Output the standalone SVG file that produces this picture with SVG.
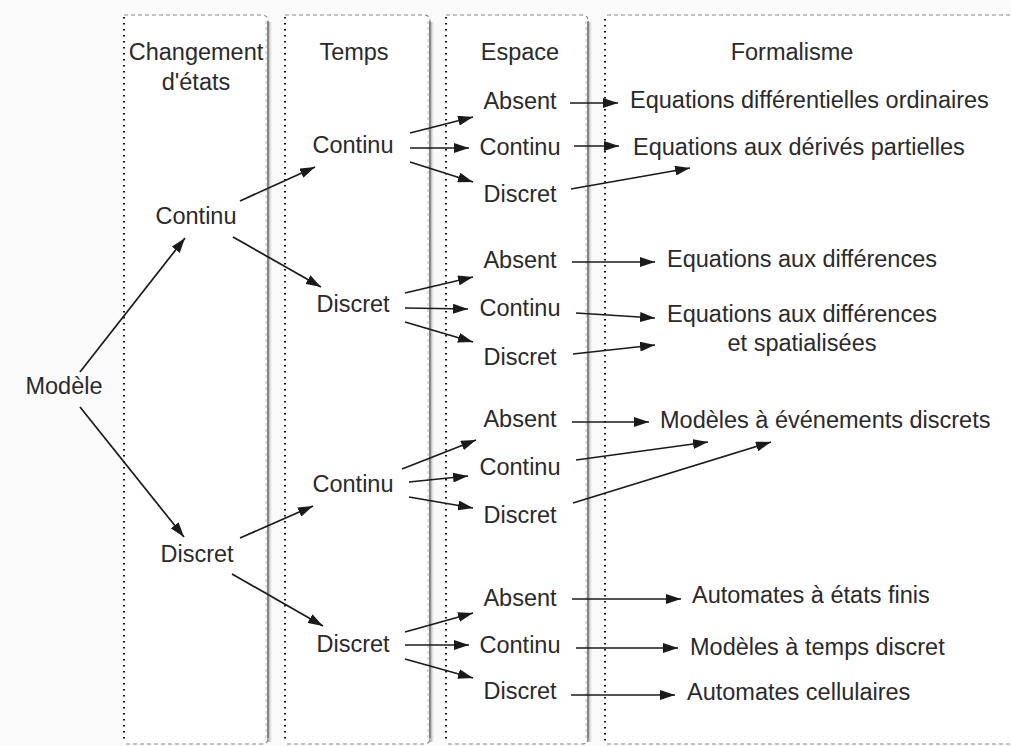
<svg xmlns="http://www.w3.org/2000/svg" width="1011" height="746" viewBox="0 0 1011 746">
<defs>
<style>
text{font-family:"Liberation Sans",Arial,sans-serif;font-size:23.5px;fill:#2a2a2a}
.c{text-anchor:middle}
.col{fill:#ffffff}
.top{stroke:#8a8a8a;stroke-width:1.2;stroke-dasharray:4 3;fill:none}
.left{stroke:#111;stroke-width:2;stroke-dasharray:1.6 4.4;fill:none}
.right{stroke:#777;stroke-width:1.5;fill:none}
.rtick{stroke:#bbb;stroke-width:1;stroke-dasharray:3 3;fill:none}
.e{stroke:#1a1a1a;stroke-width:1.7;fill:none;marker-end:url(#ah)}
</style>
<marker id="ah" markerWidth="15" markerHeight="10" refX="15" refY="5" orient="auto" markerUnits="userSpaceOnUse">
<path d="M0,0 L15,5 L0,10 z" fill="#1a1a1a"/>
</marker>
<linearGradient id="sh" x1="0" y1="0" x2="1" y2="0">
<stop offset="0" stop-color="#9a9a9a"/>
<stop offset="0.4" stop-color="#c4c4c4"/>
<stop offset="1" stop-color="#ffffff" stop-opacity="0"/>
</linearGradient>
</defs>
<rect x="0" y="0" width="1011" height="746" fill="#fafafa"/>

<g id="columns">
<g id="col-etats">
<rect class="col" x="124" y="15" width="144" height="729"/>
<rect x="267" y="22" width="6" height="720" fill="url(#sh)"/>
<path class="top" d="M124,15 H262 Q268,15 268,21"/>
<path class="top" d="M126,744 H262 Q268,744 268,738"/>
<path class="right" d="M268,21 V738"/>
<path class="rtick" d="M266,21 V738"/>
<path class="left" d="M124,17 V742"/>
</g>
<g id="col-temps">
<rect class="col" x="285" y="15" width="145" height="729"/>
<rect x="429" y="22" width="6" height="720" fill="url(#sh)"/>
<path class="top" d="M285,15 H424 Q430,15 430,21"/>
<path class="top" d="M287,744 H424 Q430,744 430,738"/>
<path class="right" d="M430,21 V738"/>
<path class="rtick" d="M428,21 V738"/>
<path class="left" d="M285,17 V742"/>
</g>
<g id="col-espace">
<rect class="col" x="446" y="15" width="142" height="729"/>
<rect x="587" y="22" width="6" height="720" fill="url(#sh)"/>
<path class="top" d="M446,15 H582 Q588,15 588,21"/>
<path class="top" d="M448,744 H582 Q588,744 588,738"/>
<path class="right" d="M588,21 V738"/>
<path class="rtick" d="M586,21 V738"/>
<path class="left" d="M446,17 V742"/>
</g>
<g id="col-formalisme">
<rect class="col" x="605" y="15" width="406" height="729"/>
<path class="top" d="M607,15 H1011"/>
<path class="top" d="M607,744 H1011"/>
<path class="left" d="M605,19 V742"/>
</g>
</g>

<g id="headers">
<text class="c" x="196" y="60">Changement</text>
<text class="c" x="196" y="90">d'états</text>
<text class="c" x="354" y="60">Temps</text>
<text class="c" x="520" y="60">Espace</text>
<text class="c" x="792" y="60">Formalisme</text>
</g>

<g id="modele"><text class="c" x="64" y="394">Modèle</text></g>

<g id="etat-continu"><text class="c" x="196" y="224">Continu</text></g>
<g id="etat-discret"><text class="c" x="197" y="562">Discret</text></g>

<g id="temps-1"><text class="c" x="353" y="153">Continu</text></g>
<g id="temps-2"><text class="c" x="353" y="312">Discret</text></g>
<g id="temps-3"><text class="c" x="353" y="492">Continu</text></g>
<g id="temps-4"><text class="c" x="353" y="652">Discret</text></g>

<g id="espace-1a"><text class="c" x="520" y="109">Absent</text></g>
<g id="espace-1b"><text class="c" x="520" y="155">Continu</text></g>
<g id="espace-1c"><text class="c" x="520" y="202">Discret</text></g>
<g id="espace-2a"><text class="c" x="520" y="268">Absent</text></g>
<g id="espace-2b"><text class="c" x="520" y="316">Continu</text></g>
<g id="espace-2c"><text class="c" x="520" y="365">Discret</text></g>
<g id="espace-3a"><text class="c" x="520" y="427">Absent</text></g>
<g id="espace-3b"><text class="c" x="520" y="475">Continu</text></g>
<g id="espace-3c"><text class="c" x="520" y="523">Discret</text></g>
<g id="espace-4a"><text class="c" x="520" y="606">Absent</text></g>
<g id="espace-4b"><text class="c" x="520" y="653">Continu</text></g>
<g id="espace-4c"><text class="c" x="520" y="699">Discret</text></g>

<g id="f-edo"><text x="630" y="108">Equations différentielles ordinaires</text></g>
<g id="f-edp"><text x="633" y="155">Equations aux dérivés partielles</text></g>
<g id="f-diff"><text x="667" y="267">Equations aux différences</text></g>
<g id="f-diff-spat"><text x="667" y="322">Equations aux différences</text><text class="c" x="802" y="351">et spatialisées</text></g>
<g id="f-evt"><text x="660" y="428">Modèles à événements discrets</text></g>
<g id="f-auto"><text x="692" y="603">Automates à états finis</text></g>
<g id="f-temps"><text x="690" y="655">Modèles à temps discret</text></g>
<g id="f-cell"><text x="687" y="700">Automates cellulaires</text></g>

<g id="connectors">
<line class="e" x1="80" y1="372" x2="185" y2="238"/>
<line class="e" x1="80" y1="407" x2="184" y2="537"/>
<line class="e" x1="240" y1="201" x2="315" y2="167"/>
<line class="e" x1="233" y1="237" x2="321" y2="287"/>
<line class="e" x1="240" y1="538" x2="313" y2="506"/>
<line class="e" x1="232" y1="574" x2="323" y2="626"/>

<line class="e" x1="410" y1="133" x2="473" y2="117"/>
<line class="e" x1="410" y1="148" x2="469" y2="148"/>
<line class="e" x1="410" y1="162" x2="473" y2="182"/>
<line class="e" x1="405" y1="293" x2="473" y2="277"/>
<line class="e" x1="405" y1="308" x2="468" y2="309"/>
<line class="e" x1="405" y1="322" x2="473" y2="342"/>
<line class="e" x1="402" y1="469" x2="476" y2="440"/>
<line class="e" x1="409" y1="482" x2="468" y2="476"/>
<line class="e" x1="409" y1="497" x2="473" y2="508"/>
<line class="e" x1="405" y1="632" x2="473" y2="613"/>
<line class="e" x1="405" y1="645" x2="469" y2="645"/>
<line class="e" x1="405" y1="659" x2="473" y2="678"/>

<line class="e" x1="570" y1="103" x2="618" y2="103"/>
<line class="e" x1="574" y1="146" x2="619" y2="146"/>
<line class="e" x1="571" y1="189" x2="690" y2="168"/>
<line class="e" x1="572" y1="262" x2="655" y2="262"/>
<line class="e" x1="576" y1="313" x2="655" y2="318"/>
<line class="e" x1="573" y1="354" x2="655" y2="345"/>
<line class="e" x1="572" y1="422" x2="649" y2="422"/>
<line class="e" x1="576" y1="460" x2="708" y2="442"/>
<line class="e" x1="573" y1="503" x2="771" y2="442"/>
<line class="e" x1="572" y1="599" x2="681" y2="599"/>
<line class="e" x1="576" y1="648" x2="678" y2="648"/>
<line class="e" x1="571" y1="695" x2="675" y2="695"/>
</g>
</svg>
